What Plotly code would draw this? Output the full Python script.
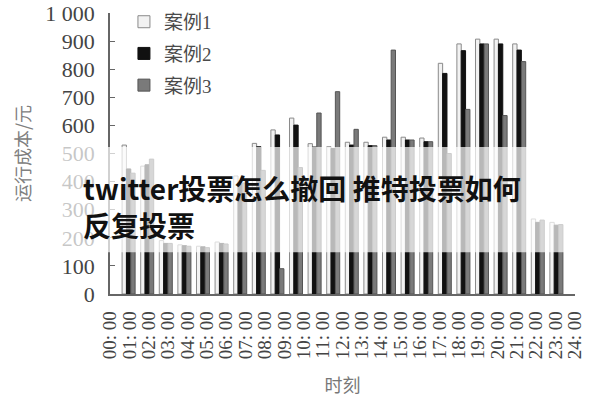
import plotly.graph_objects as go

# hours at which each bar group sits (1 = 01:00 ... 24 = 24:00)
hours = [1, 2, 3, 4, 5, 6, 7, 8, 9, 10, 11, 12,
         13, 14, 15, 16, 17, 18, 19, 20, 21, 22, 23, 24]

case1 = [530, 455, 190, 175, 170, 185, 420, 536, 584, 626, 535, 524,
         540, 540, 558, 558, 555, 821, 890, 907, 907, 890, 267, 255]
case2 = [445, 460, 180, 172, 168, 180, 390, 524, 566, 601, 523, 518,
         530, 528, 548, 548, 542, 785, 866, 890, 890, 868, 255, 245]
case3 = [430, 480, 180, 170, 165, 178, 395, 440, 90, 450, 644, 720,
         586, 528, 868, 548, 542, 500, 657, 890, 635, 827, 263, 247]

series_names = ["案例1", "案例2", "案例3"]

x_tick_labels = ["00: 00", "01: 00", "02: 00", "03: 00", "04: 00", "05: 00",
                 "06: 00", "07: 00", "08: 00", "09: 00", "10: 00", "11: 00",
                 "12: 00", "13: 00", "14: 00", "15: 00", "16: 00", "17: 00",
                 "18: 00", "19: 00", "20: 00", "21: 00", "22: 00", "23: 00",
                 "24: 00"]
y_tick_vals = [0, 100, 200, 300, 400, 500, 600, 700, 800, 900, 1000]
y_tick_text = ["0", "100", "200", "300", "400", "500", "600", "700", "800",
               "900", "1 000"]

styles = [
    dict(color="#f2f2f2", line=dict(color="#8a8a8a", width=1)),
    dict(color="#111111", line=dict(color="#111111", width=1)),
    dict(color="#7a7a7a", line=dict(color="#555555", width=1)),
]

fig = go.Figure()
for name, vals, st, g in zip(series_names, [case1, case2, case3], styles, ["a", "b", "c"]):
    fig.add_trace(go.Bar(x=hours, y=vals, name=name, marker=st, legendgroup=g))

n_labels = len(x_tick_labels)
span = hours[-1] + 1
tick_pos = [i * span / (n_labels - 1) for i in range(n_labels)]

y_font = dict(family="Liberation Serif, serif", size=22, color="#444444")
x_font = dict(family="Liberation Serif, serif", size=19, color="#444444")

fig.update_layout(
    width=600, height=400,
    margin=dict(l=110, r=25, t=13, b=106, autoexpand=False),
    paper_bgcolor="white", plot_bgcolor="white",
    barmode="group", bargap=0.3, bargroupgap=0,
    showlegend=True,
    legend=dict(x=0.03, y=1.036, xanchor="left", yanchor="top",
                font=dict(family="Liberation Serif, Noto Sans CJK SC", size=19, color="#4a4a4a"),
                tracegroupgap=4, bgcolor="rgba(0,0,0,0)"),
    xaxis=dict(range=[0, span], tickmode="array", tickvals=tick_pos, ticktext=x_tick_labels,
               tickangle=-90, tickfont=x_font, ticks="", showgrid=False, automargin=False,
               showline=True, linecolor="#666666", linewidth=1.5, zeroline=False,
               ticklabelstandoff=8, ticklabeloverflow="allow",
               title=dict(text="时刻", font=dict(family="Noto Sans CJK SC", size=18, color="#777777"),
                          standoff=21)),
    yaxis=dict(range=[0, 1000], tickmode="array", tickvals=y_tick_vals, ticktext=y_tick_text,
               tickfont=y_font, ticks="inside", ticklen=5, tickcolor="#666666", automargin=False,
               showgrid=False, showline=True, linecolor="#666666", linewidth=1.5,
               zeroline=False, ticklabelstandoff=9, ticklabeloverflow="allow",
               title=dict(text="运行成本/元", font=dict(family="Noto Sans CJK SC", size=18, color="#808080"),
                          standoff=10)),
)

# translucent white banner with overlay text
fig.add_shape(type="rect", xref="paper", yref="paper",
              x0=-0.25, x1=1.08, y0=0.149, y1=0.523,
              fillcolor="rgba(255,255,255,0.7)", line=dict(width=0), layer="above")
fig.add_annotation(xref="paper", yref="paper", x=-0.062, y=0.377, xanchor="left", yanchor="middle",
                   text="<b>twitter投票怎么撤回 推特投票如何</b>", showarrow=False,
                   font=dict(family="Noto Sans CJK SC", size=28, color="#111111"))
fig.add_annotation(xref="paper", yref="paper", x=-0.062, y=0.2456, xanchor="left", yanchor="middle",
                   text="<b>反复投票</b>", showarrow=False,
                   font=dict(family="Noto Sans CJK SC", size=28, color="#111111"))

fig.write_html("out.html", config={"displayModeBar": False},
               post_script="document.body.style.margin='0px';")
